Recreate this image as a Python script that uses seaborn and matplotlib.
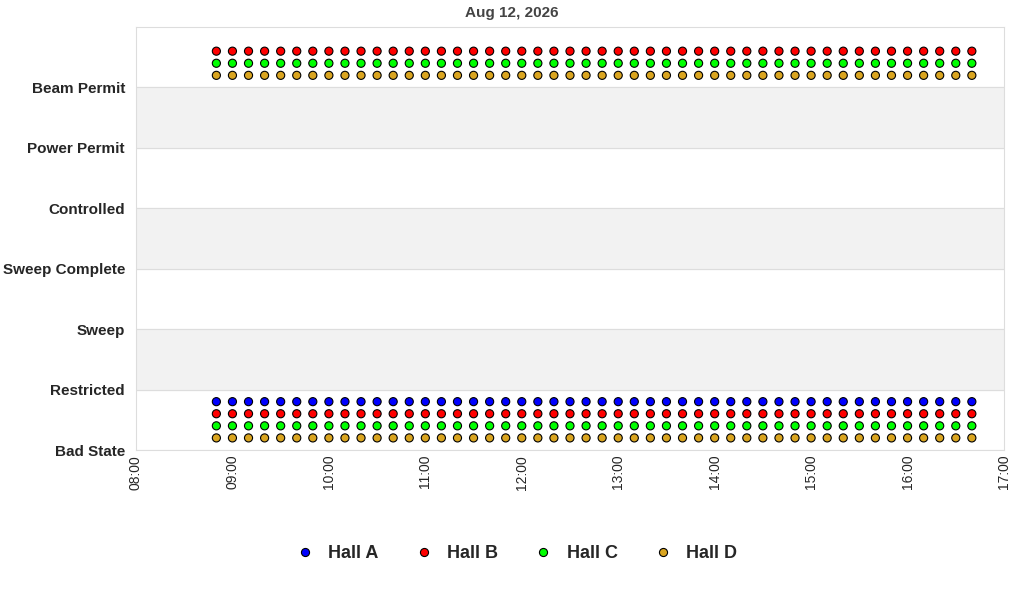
import numpy as np
import pandas as pd
import matplotlib
matplotlib.use("Agg")
import matplotlib.pyplot as plt
import matplotlib.dates as mdates
import seaborn as sns

# state labels, bottom to top
states = ["Bad State", "Restricted", "Sweep", "Sweep Complete", "Controlled", "Power Permit", "Beam Permit"]
halls = ["Hall A", "Hall B", "Hall C", "Hall D"]
hall_colors = ["#0000ff", "#ff0000", "#00ff00", "#daa520"]
# state index per hall and vertical offset inside the band
hall_states = {"Hall A": [0], "Hall B": [0, 6], "Hall C": [0, 6], "Hall D": [0, 6]}
hall_offsets = {"Hall A": 0.8, "Hall B": 0.6, "Hall C": 0.4, "Hall D": 0.2}
times = pd.date_range("2026-08-12 08:50", "2026-08-12 16:40", freq="10min")

rows = []
for h in halls:
    for s in hall_states[h]:
        for t in times:
            rows.append({"time": t, "value": s + hall_offsets[h], "hall": h})
df = pd.DataFrame(rows)

sns.set_style("white")
plt.rcParams["font.family"] = ["Liberation Sans", "DejaVu Sans"]
fig = plt.figure(figsize=(10.24, 6), dpi=100)
ax = fig.add_axes([136 / 1024, 1 - 450 / 600, 868 / 1024, 423 / 600])

for i in range(7):
    if i % 2 == 1:
        ax.axhspan(i, i + 1, color="#f2f2f2", zorder=0)
    ax.axhline(i, color="#dddddd", lw=0.8, zorder=0)

sns.scatterplot(data=df, x="time", y="value", hue="hall", hue_order=halls,
                palette=hall_colors, s=34, edgecolor="black", linewidth=0.8,
                ax=ax, zorder=3)

ax.set_ylim(0, 7)
ax.set_yticks(range(7))
ax.set_yticklabels(states, fontweight="bold", fontsize=11)
ax.set_xlim(pd.Timestamp("2026-08-12 08:00"), pd.Timestamp("2026-08-12 17:00"))
ax.xaxis.set_major_locator(mdates.HourLocator())
ax.xaxis.set_major_formatter(mdates.DateFormatter("%H:%M"))
plt.setp(ax.get_xticklabels(), rotation=90, fontsize=10)
ax.tick_params(axis="both", length=0)
ax.tick_params(axis="y", pad=8)
ax.set_xlabel("")
ax.set_ylabel("")
for sp in ax.spines.values():
    sp.set_color("#dddddd")
fig.text(0.5, 1 - 13 / 600, "Aug 12, 2026", ha="center", va="center",
         fontweight="bold", color="#444444", fontsize=11)

handles, labels = ax.get_legend_handles_labels()
ax.get_legend().remove()
fig.legend(handles, labels, loc="center", bbox_to_anchor=(0.5, 1 - 554 / 600), ncol=4,
           frameon=False, prop={"weight": "bold", "size": 13}, handletextpad=0.3,
           columnspacing=1.5)

fig.savefig("out.png", dpi=100)
